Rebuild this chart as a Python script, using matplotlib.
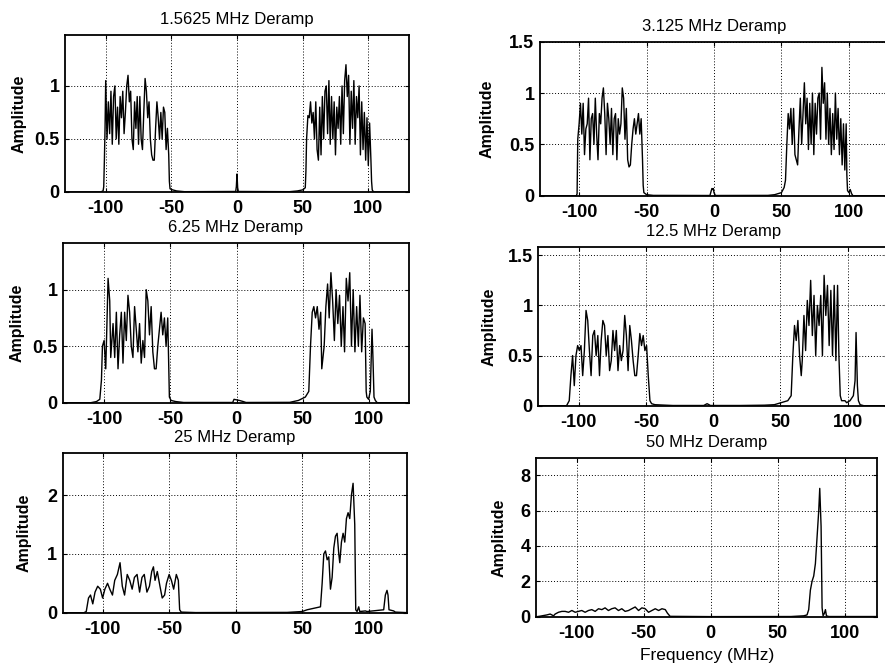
import matplotlib
matplotlib.use("Agg")
import matplotlib.pyplot as plt
from matplotlib.ticker import FuncFormatter

plt.rcParams['font.family'] = ['Liberation Sans', 'DejaVu Sans']
plt.rcParams['axes.unicode_minus'] = False

# ---------------- data (frequency MHz, amplitude) ----------------
titles = ["1.5625 MHz Deramp", "3.125 MHz Deramp", "6.25 MHz Deramp",
          "12.5 MHz Deramp", "25 MHz Deramp", "50 MHz Deramp"]

s1_freq = [-131, -104, -102, -101.5, -101, -100.5, -100, -99, -98, -97, -96, -95, -94, -93, -92, -91, -90,
           -89, -88, -87, -86, -85, -84, -83, -82, -81, -80, -79, -78, -77, -76, -75, -74, -73, -72,
           -71, -70, -69, -68, -67, -66, -65, -64, -63, -62, -61, -60, -59, -58, -57, -56, -55, -54,
           -53, -52, -51.5, -51, -49, -46, -40, -1, -0.5, 0, 0.5, 1, 40, 46, 50, 52, 52.5, 53,
           54, 55, 56, 57, 58, 59, 60, 61, 62, 63, 64, 65, 66, 67, 68, 69, 70, 71, 72, 73, 74, 75,
           76, 77, 78, 79, 80, 81, 82, 83, 84, 85, 86, 87, 88, 89, 90, 91, 92, 93, 94, 95, 96, 97,
           98, 99, 100, 101, 102, 102.5, 103, 104, 131]
s1_amp = [0, 0, 0.01, 0.05, 0.3, 0.6, 1.05, 0.5, 0.85, 0.55, 0.95, 0.45, 0.9, 1.0, 0.5, 0.8, 0.45,
          0.9, 0.7, 0.95, 0.55, 0.75, 1.0, 1.1, 0.85, 0.95, 0.5, 0.4, 0.85, 0.6, 0.9, 0.45, 0.9, 0.5, 0.4,
          0.75, 1.07, 0.95, 0.7, 0.85, 0.5, 0.35, 0.3, 0.3, 0.6, 0.85, 0.7, 0.5, 0.75, 0.5, 0.8, 0.75, 0.4,
          0.6, 0.35, 0.1, 0.03, 0.02, 0.01, 0.003, 0.005, 0.05, 0.17, 0.04, 0.005, 0.003, 0.01, 0.02, 0.04, 0.2, 0.5,
          0.72, 0.7, 0.85, 0.65, 0.75, 0.5, 0.85, 0.4, 0.3, 0.8, 0.35, 0.9, 0.5, 0.95, 1.0, 0.55, 1.05, 0.45, 0.9, 0.5, 0.85, 0.35,
          0.8, 0.6, 0.9, 0.45, 1.0, 0.55, 1.05, 1.2, 0.9, 1.1, 0.45, 0.95, 0.6, 1.05, 0.45, 0.9, 0.7, 1.0, 0.35, 0.85, 0.4, 0.75,
          0.3, 0.7, 0.25, 0.65, 0.3, 0.1, 0.02, 0, 0]

s2_freq = [-130, -102, -101.5, -101, -100, -99, -98, -97, -96, -95, -94, -93, -92, -91, -90, -89, -88,
           -87, -86, -85, -84, -83, -82, -81, -80, -79, -78, -77, -76, -75, -74, -73, -72, -71, -70,
           -69, -68, -67, -66, -65, -64, -63, -62, -61, -60, -59, -58, -57, -56, -55, -54, -53, -52.5,
           -52, -50, -45, -3, -2, -1.5, -1, -0.5, 0, 1, 40, 45, 50, 52, 53, 54, 55, 56, 57, 58, 59,
           60, 61, 62, 63, 64, 65, 66, 67, 68, 69, 70, 71, 72, 73, 74, 75, 76, 77, 78, 79, 80, 81,
           82, 83, 84, 85, 86, 87, 88, 89, 90, 91, 92, 93, 94, 95, 96, 97, 98, 98.5, 99, 100, 101,
           102, 103, 130]
s2_amp = [0, 0, 0.02, 0.55, 0.7, 0.9, 0.6, 0.9, 0.4, 0.65, 0.7, 0.95, 0.35, 0.75, 0.8, 0.5, 0.95,
          0.6, 0.35, 0.8, 0.7, 0.95, 1.05, 0.8, 0.4, 0.9, 0.75, 0.5, 0.85, 0.4, 0.75, 0.8, 0.35, 0.75, 0.6,
          0.7, 1.05, 0.95, 0.55, 0.85, 0.35, 0.28, 0.3, 0.5, 0.65, 0.75, 0.6, 0.7, 0.8, 0.6, 0.75, 0.35, 0.1,
          0.03, 0.01, 0.003, 0.002, 0.05, 0.07, 0.06, 0.07, 0.03, 0.002, 0.003, 0.01, 0.03, 0.08, 0.15, 0.5, 0.8, 0.65, 0.85, 0.5, 0.85,
          0.4, 0.35, 0.3, 0.65, 0.95, 0.5, 0.8, 1.1, 0.7, 0.95, 0.45, 0.9, 0.5, 1.0, 0.4, 0.9, 0.6, 0.95, 1.0, 0.55, 1.25, 0.9,
          1.1, 0.55, 1.0, 0.5, 0.85, 0.4, 0.8, 0.45, 1.0, 0.55, 0.85, 0.4, 0.75, 0.3, 0.7, 0.25, 0.7, 0.2, 0.05, 0.03, 0.06,
          0.02, 0, 0]

s3_freq = [-131, -110, -105.75, -103.25, -102, -101.25, -100, -98.75, -97.75, -97, -95.75, -95, -93.25,
           -92, -90.75, -89.5, -88.25, -87, -85.75, -84.5, -83.25, -82, -80.75, -79.5, -78.25, -77,
           -75.75, -74.5, -73.25, -72, -70.75, -69.5, -68.25, -67, -65.75, -64.5, -63.25, -62, -60.75,
           -59.5, -58.25, -57, -55.75, -54.5, -53.25, -52, -50.75, -49.5, -46, -40, -3, -2, 0, 2, 5, 7,
           40, 46.6, 51.8, 54.4, 55.7, 57, 58.2, 59.5, 60.8, 62.1, 63.4, 64.2, 66, 67.3, 68.6, 69.8,
           71.1, 72.4, 73.7, 75, 76.3, 77.6, 78.9, 80.2, 81.4, 82.7, 84, 85.3, 86.6, 87.9, 89.2, 90.5,
           91.8, 93, 94.3, 95.6, 96.9, 97.7, 98.2, 99.5, 100.8, 102.1, 102.8, 103.6, 104.6, 106, 131]
s3_amp = [0, 0, 0.01, 0.03, 0.2, 0.5, 0.55, 0.3, 0.75, 1.1, 0.9, 0.4, 0.7,
          0.4, 0.8, 0.3, 0.6, 0.8, 0.35, 0.8, 0.55, 0.95, 0.8, 0.5, 0.4, 0.85,
          0.65, 0.45, 0.7, 0.35, 0.55, 0.4, 1.0, 0.9, 0.6, 0.85, 0.45, 0.3, 0.3,
          0.5, 0.65, 0.8, 0.6, 0.75, 0.5, 0.75, 0.05, 0.02, 0.01, 0.002, 0.002, 0.03, 0.025, 0.02, 0.01, 0.002,
          0.003, 0.02, 0.05, 0.1, 0.5, 0.8, 0.85, 0.75, 0.85, 0.65, 0.8, 0.3, 0.5, 0.85, 1.05, 0.75,
          1.15, 0.9, 0.55, 1.0, 0.7, 0.95, 0.5, 0.85, 0.45, 1.1, 0.9, 1.15, 0.5, 1.0, 0.45, 0.85,
          0.5, 0.95, 0.45, 0.75, 0.7, 0.1, 0.05, 0.03, 0.1, 0.65, 0.4, 0.05, 0.02, 0, 0]

s4_freq = [-130, -109, -107, -105.75, -104.5, -103.25, -102, -100.75, -99.5, -98.25, -97, -95.75,
           -94.5, -93.25, -92, -90.75, -89.5, -88.25, -87, -85.75, -84.5, -83.25, -82, -80.75, -79.5,
           -78.25, -77, -75.75, -74.5, -73.25, -72, -70.75, -69.5, -68.25, -67, -65.75, -64.5, -63.25,
           -62, -60.75, -59.5, -58.25, -57, -55.75, -54.5, -53.25, -52, -50.75, -49.5, -48.25, -47,
           -45.75, -43.25, -30, -7, -4.5, -2, 20, 38, 45.5, 50.5, 55.5, 58, 59.25, 60.5, 61.75, 63,
           64.25, 65.5, 66.25, 67.5, 68.75, 70, 71.25, 72.5, 73.75, 75, 76.25, 77.5, 78.75, 80, 81.25,
           82.5, 83.75, 85, 86.25, 87.5, 88.75, 90, 91.25, 92.5, 93.5, 94.5, 95.5, 98, 99.25, 101.75,
           104.25, 105.5, 106.25, 107.25, 108, 109.25, 112, 130]
s4_amp = [0, 0, 0.05, 0.3, 0.5, 0.2, 0.5, 0.6, 0.55, 0.6, 0.3, 0.55,
          0.95, 0.85, 0.55, 0.3, 0.7, 0.75, 0.5, 0.7, 0.3, 0.65, 0.85, 0.8, 0.5,
          0.7, 0.35, 0.45, 0.75, 0.55, 0.75, 0.35, 0.6, 0.45, 0.55, 0.9, 0.7, 0.35,
          0.8, 0.65, 0.45, 0.3, 0.3, 0.5, 0.72, 0.6, 0.7, 0.55, 0.6, 0.3, 0.05,
          0.02, 0.01, 0.002, 0.002, 0.02, 0.002, 0.002, 0.005, 0.01, 0.03, 0.05, 0.1, 0.5, 0.8, 0.65, 0.85,
          0.5, 0.3, 0.45, 0.9, 0.55, 1.05, 0.8, 1.25, 0.7, 1.1, 0.5, 1.0, 0.8, 1.1, 0.5,
          1.3, 0.9, 1.2, 0.6, 1.15, 0.5, 1.2, 0.45, 1.2, 0.5, 0.1, 0.05, 0.05, 0.03, 0.05,
          0.1, 0.25, 0.73, 0.2, 0.05, 0.01, 0, 0]

s5_freq = [-130, -114, -112.3, -110.6, -109.1, -107.4, -105.7, -103.7, -101.7, -100, -98.3, -96.3,
           -94.6, -92.6, -90.9, -88.9, -86.9, -85.2, -83.5, -81.5, -79.6, -77.8, -76.1, -74.1, -72.2,
           -70.4, -68.7, -66.7, -64.8, -63.1, -61.8, -60.6, -58.9, -56.9, -55.2, -53.4, -52, -50,
           -48.3, -46.6, -44.6, -43.1, -42.1, -40.9, -30, 38.75, 50, 53.75, 63.75, 65, 66.25, 67.5,
           68.75, 70, 71.25, 72.5, 73.75, 75, 76.25, 77.5, 78.25, 79.5, 80.75, 82, 83.25, 84.5, 85.75,
           87, 88.25, 89.5, 90.25, 91.25, 92.5, 93.25, 97.5, 98.75, 111.25, 112.5, 113.75, 114.5,
           115.25, 118.75, 120, 130]
s5_amp = [0, 0, 0.02, 0.25, 0.3, 0.15, 0.35, 0.45, 0.4, 0.25, 0.4, 0.5,
          0.4, 0.3, 0.55, 0.65, 0.85, 0.45, 0.3, 0.65, 0.55, 0.4, 0.6, 0.65, 0.35,
          0.6, 0.65, 0.35, 0.45, 0.7, 0.78, 0.55, 0.7, 0.45, 0.25, 0.3, 0.5, 0.65,
          0.55, 0.4, 0.65, 0.55, 0.05, 0.01, 0.002, 0.005, 0.02, 0.05, 0.1, 0.5, 1.0, 1.05,
          0.9, 0.95, 0.4, 0.6, 1.1, 1.3, 1.35, 1.0, 0.85, 1.2, 1.35, 1.2, 1.6, 1.7, 1.6,
          2.0, 2.2, 1.5, 0.05, 0.02, 0.1, 0.02, 0.03, 0.02, 0.05, 0.3, 0.38, 0.3,
          0.05, 0.03, 0.01, 0]

s6_freq = [-130, -127.4, -122.4, -119.9, -117.4, -116.2, -113.7, -111.2, -108.7, -106.2, -103.7,
           -101.2, -98.8, -96.3, -93.8, -91.3, -88.8, -86.3, -83.8, -81.3, -78.9, -76.4, -73.9, -71.4,
           -68.9, -66.4, -63.9, -61.4, -58.9, -56.4, -53.9, -51.4, -48.9, -46.4, -43.9, -41.4, -38.9,
           -36.4, -33.9, -32.3, -30.3, 0, 60, 69.5, 72, 73.25, 74.5, 75.75, 77, 78.25, 79.5, 80.75,
           81.5, 82.5, 83.25, 84, 85, 85.75, 86.5, 88.25, 125]
s6_amp = [0, 0.03, 0.1, 0.15, 0.05, 0.15, 0.25, 0.3, 0.3, 0.25, 0.35,
          0.25, 0.3, 0.35, 0.25, 0.35, 0.4, 0.3, 0.45, 0.4, 0.5, 0.35, 0.45, 0.5,
          0.35, 0.45, 0.3, 0.35, 0.45, 0.55, 0.35, 0.5, 0.45, 0.25, 0.35, 0.45, 0.35,
          0.45, 0.4, 0.2, 0.02, 0.005, 0.01, 0.05, 0.1, 0.4, 1.5, 2.0, 2.3, 3.0, 4.5, 6.0,
          7.25, 5.1, 0.5, 0.05, 0.2, 0.4, 0.05, 0.01, 0.01]

freqs = [s1_freq, s2_freq, s3_freq, s4_freq, s5_freq, s6_freq]
amps = [s1_amp, s2_amp, s3_amp, s4_amp, s5_amp, s6_amp]

xlims = [(-131, 131), (-129, 129), (-131, 130), (-130, 130), (-130, 129), (-130.5, 124.5)]
ylims = [(0, 1.48), (0, 1.5), (0, 1.41), (0, 1.58), (0, 2.71), (0, 8.95)]
yticks = [[0, 0.5, 1], [0, 0.5, 1, 1.5], [0, 0.5, 1], [0, 0.5, 1, 1.5], [0, 1, 2], [0, 2, 4, 6, 8]]
xticks = [-100, -50, 0, 50, 100]

# axes boxes in pixels: left, right, top, bottom
boxes = [(65, 409, 35, 192), (540, 888, 41.7, 195.7),
         (63, 409, 243.3, 402.7), (538.3, 888, 247.3, 405.7),
         (62.7, 407.3, 453.3, 612.7), (536, 877.3, 458.3, 616.7)]
ylabel_off = [38, 45, 38, 42, 31, 29]

W, H = 885, 669
fig = plt.figure(figsize=(W / 100, H / 100), dpi=100)

def fmt(v, pos):
    return ("%g" % v)

for i in range(6):
    l, r, t, b = boxes[i]
    ax = fig.add_axes([l / W, 1 - b / H, (r - l) / W, (b - t) / H])
    ax.plot(freqs[i], amps[i], color='black', lw=1.0)
    ax.set_xlim(*xlims[i])
    ax.set_ylim(*ylims[i])
    ax.set_xticks(xticks)
    ax.set_yticks(yticks[i])
    ax.yaxis.set_major_formatter(FuncFormatter(fmt))
    ax.grid(True, color='black', linestyle=(0, (1, 2)), linewidth=0.7)
    ax.tick_params(direction='in', length=3, width=0.8, labelsize=13, pad=6,
                   top=True, right=True, colors='black')
    ax.tick_params(axis='y', pad=4)
    for lab in ax.get_xticklabels() + ax.get_yticklabels():
        lab.set_fontweight('bold')
    for s in ax.spines.values():
        s.set_linewidth(1.3)
        s.set_color('black')
    ax.set_title(titles[i], fontsize=12, pad=8)
    ax.set_ylabel("Amplitude", fontsize=11.5, fontweight='bold')
    ax.yaxis.set_label_coords(-ylabel_off[i] / (r - l), 0.5)
    if i == 5:
        ax.set_xlabel("Frequency (MHz)", fontsize=12.5, labelpad=4)

fig.savefig("out.png", dpi=100)
